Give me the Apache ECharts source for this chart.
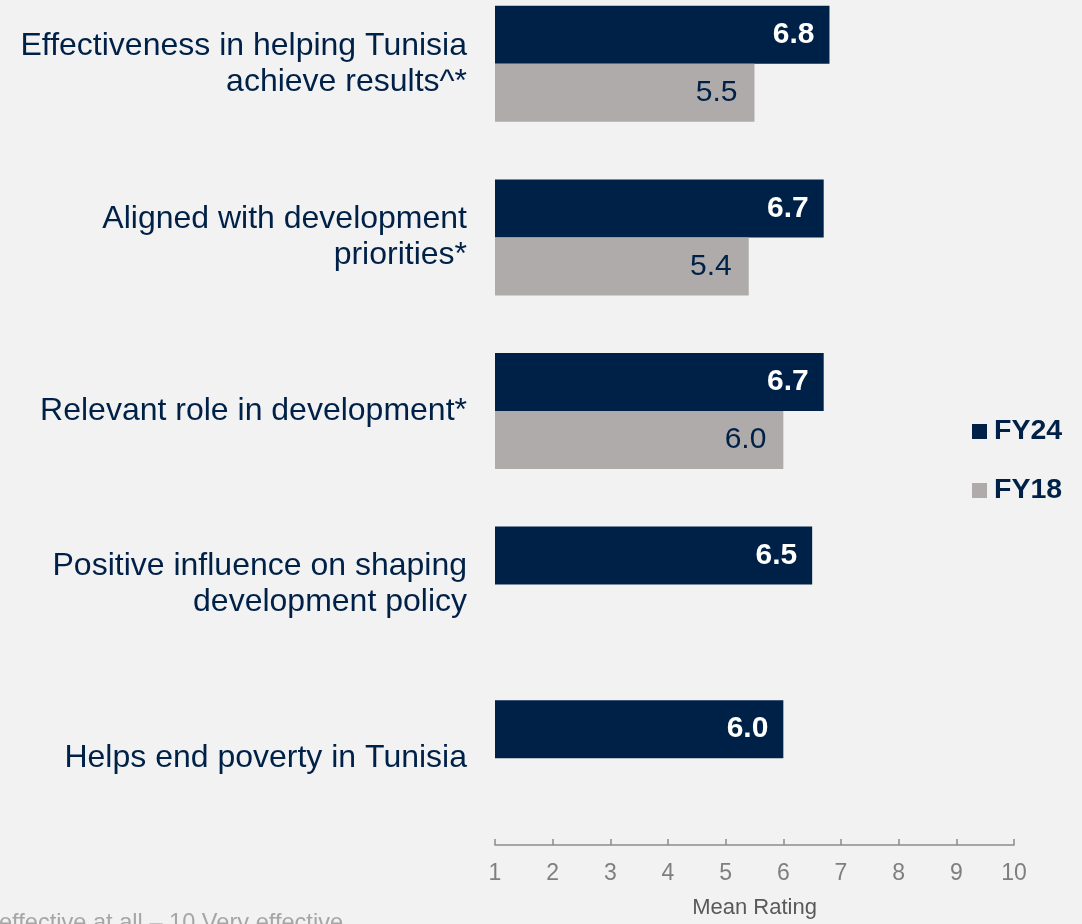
<!DOCTYPE html>
<html>
<head>
<meta charset="utf-8">
<script src="https://cdn.jsdelivr.net/npm/echarts@6/dist/echarts.min.js"></script>
<style>
html,body{margin:0;padding:0;background:#F2F2F2;overflow:hidden;}
#wrap{width:1082px;height:924px;overflow:hidden;position:relative;}
#chart{width:1082px;height:947px;position:absolute;left:0;top:-23px;}
</style>
</head>
<body>
<div id="wrap"><div id="chart"></div></div>
<script>
const categories = [
  "Effectiveness in helping Tunisia\nachieve results^*",
  "Aligned with development\npriorities*",
  "Relevant role in development*",
  "Positive influence on shaping\ndevelopment policy",
  "Helps end poverty in Tunisia"
];
const seriesNames = ["FY24", "FY18"];
const fy24 = [6.8, 6.7, 6.7, 6.5, 6.0];
const fy18 = [5.5, 5.4, 6.0, null, null];
const xTicks = [1, 10, 1]; // min, max, interval
const axisName = "Mean Rating";
const footnote = "effective at all \u2013 10 Very effective";

const NAVY = "#002147";
const GREY = "#AFABAB";
const FONT = "Arial, 'Liberation Sans', sans-serif";
const OFF = 23; // chart canvas is shifted up by this many pixels

const chart = echarts.init(document.getElementById('chart'));
chart.setOption({
  backgroundColor: "#F2F2F2",
  animation: false,
  textStyle: { fontFamily: FONT },
  legend: {
    orient: 'vertical',
    left: 967,
    top: 412 + OFF,
    itemWidth: 15,
    itemHeight: 15,
    itemGap: 30,
    icon: 'rect',
    textStyle: { color: NAVY, fontSize: 28.5, fontWeight: 'bold', fontFamily: FONT, padding: [0,0,0,2] },
    data: seriesNames
  },
  grid: { left: 495, right: 68, top: 0, bottom: 77, containLabel: false },
  xAxis: {
    type: 'value',
    min: xTicks[0], max: xTicks[1], interval: xTicks[2],
    splitLine: { show: false },
    axisLine: { show: true, lineStyle: { color: '#8C8C8C', width: 1.5 } },
    axisTick: { show: true, inside: true, length: 6, lineStyle: { color: '#8C8C8C', width: 1.5 } },
    axisLabel: { color: '#7F7F7F', fontSize: 23, margin: 17, fontFamily: FONT },
    name: axisName,
    nameLocation: 'middle',
    nameGap: 52,
    nameTextStyle: { color: '#595959', fontSize: 22, fontFamily: FONT }
  },
  yAxis: {
    type: 'category',
    inverse: true,
    data: categories,
    axisLine: { show: false },
    axisTick: { show: false },
    axisLabel: { color: NAVY, fontSize: 32, lineHeight: 36, margin: 28, align: 'right', fontFamily: FONT }
  },
  series: [
    {
      name: seriesNames[0], type: 'bar', data: fy24,
      barWidth: 58, barGap: '0%',
      itemStyle: { color: NAVY },
      label: { show: true, position: 'insideRight', distance: 15, color: '#FFFFFF', fontWeight: 'bold', fontSize: 30, fontFamily: FONT, formatter: p => p.value.toFixed(1) }
    },
    {
      name: seriesNames[1], type: 'bar', data: fy18,
      barWidth: 58, barGap: '0%',
      itemStyle: { color: GREY },
      label: { show: true, position: 'insideRight', distance: 17, color: NAVY, fontSize: 30, fontFamily: FONT, formatter: p => p.value == null ? '' : p.value.toFixed(1) }
    }
  ],
  graphic: [
    { type: 'text', left: -1, top: 911 + OFF, style: { text: footnote, fill: '#A6A6A6', fontSize: 23.6, fontFamily: FONT } }
  ]
});
</script>
</body>
</html>
